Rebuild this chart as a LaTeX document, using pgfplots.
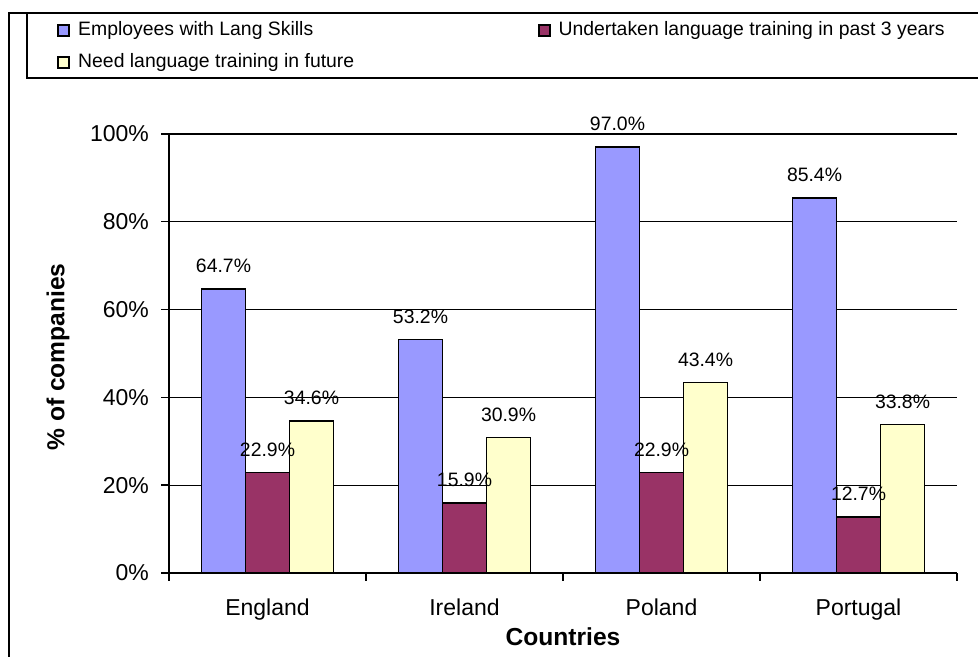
\documentclass[border=0pt]{standalone}
\usepackage{pgfplots}
\pgfplotsset{compat=1.18}
\usepackage{fontspec}
\setmainfont{Liberation Sans}
\definecolor{cblue}{HTML}{9999FF}
\definecolor{cmaroon}{HTML}{993366}
\definecolor{cyellow}{HTML}{FFFFCC}
\begin{document}
\begin{tikzpicture}
\useasboundingbox (0,0) rectangle (489pt,328.5pt);
\draw[line width=1pt] (4.5pt,-2pt) -- (4.5pt,322pt) -- (495pt,322pt);
\draw[line width=1pt] (495pt,289.5pt) -- (13.5pt,289.5pt) -- (13.5pt,322pt);
\begin{axis}[
  at={(84.5pt,42pt)}, anchor=south west,
  scale only axis, width=394pt, height=219.5pt,
  /pgf/number format/assume math mode=true,
  ybar=0pt, bar width=22pt,
  xmin=-0.5, xmax=3.5, ymin=0, ymax=100,
  xtick={0,1,2,3}, xticklabels={England,Ireland,Poland,Portugal},
  minor xtick={-0.5,0.5,1.5,2.5,3.5},
  ytick={0,20,40,60,80,100},
  yticklabel={\pgfmathprintnumber{\tick}\%},
  axis x line*=bottom, axis y line*=left,
  axis line style={black, line width=0.7pt},
  tick align=outside,
  major tick length=4pt, minor tick length=4pt,
  major x tick style={draw=none},
  minor x tick style={black, line width=0.7pt},
  major y tick style={black, line width=0.7pt},
  ymajorgrids, major grid style={black, line width=0.6pt},
  tick label style={font=\fontsize{11.5}{13}\selectfont},
  yticklabel style={xshift=-2.5pt},
  xticklabel style={yshift=-5.5pt},
  xlabel={\textbf{Countries}},
  ylabel={\textbf{\% of companies}},
  label style={font=\fontsize{12.3}{14}\selectfont},
  xlabel style={at={(axis description cs:0.5,-0.1458)}, anchor=center},
  ylabel style={at={(axis description cs:-0.1409,0.492)}, anchor=center},
  nodes near coords={\pgfmathprintnumber[fixed,fixed zerofill,precision=1]{\pgfplotspointmeta}\%},
  every node near coord/.append style={font=\fontsize{9.7}{11}\selectfont, anchor=center, yshift=11.5pt, black},
  legend image code/.code={\draw[#1, line width=0.9pt] (0pt,-2.75pt) rectangle (5.5pt,2.75pt);},
  legend columns=2,
  legend cell align=left,
  legend style={draw=none, fill=none, at={(axis description cs:-0.14213,1.2574)}, anchor=north west,
    inner sep=0pt, font=\fontsize{9.7}{11}\selectfont,
    nodes={inner sep=0pt, text height=7pt, text depth=2pt},
    /tikz/every odd column/.append style={column sep=4pt},
    /tikz/every even column/.append style={column sep=91.7pt},
    row sep=7pt},
]
\addplot[fill=cblue, draw=black, line width=0.8pt] coordinates {(0,64.7) (1,53.2) (2,97.0) (3,85.4)};
\addplot[fill=cmaroon, draw=black, line width=0.8pt] coordinates {(0,22.9) (1,15.9) (2,22.9) (3,12.7)};
\addplot[fill=cyellow, draw=black, line width=0.8pt] coordinates {(0,34.6) (1,30.9) (2,43.4) (3,33.8)};
\legend{Employees with Lang Skills, Undertaken language training in past 3 years, Need language training in future}
\end{axis}
\end{tikzpicture}
\end{document}
